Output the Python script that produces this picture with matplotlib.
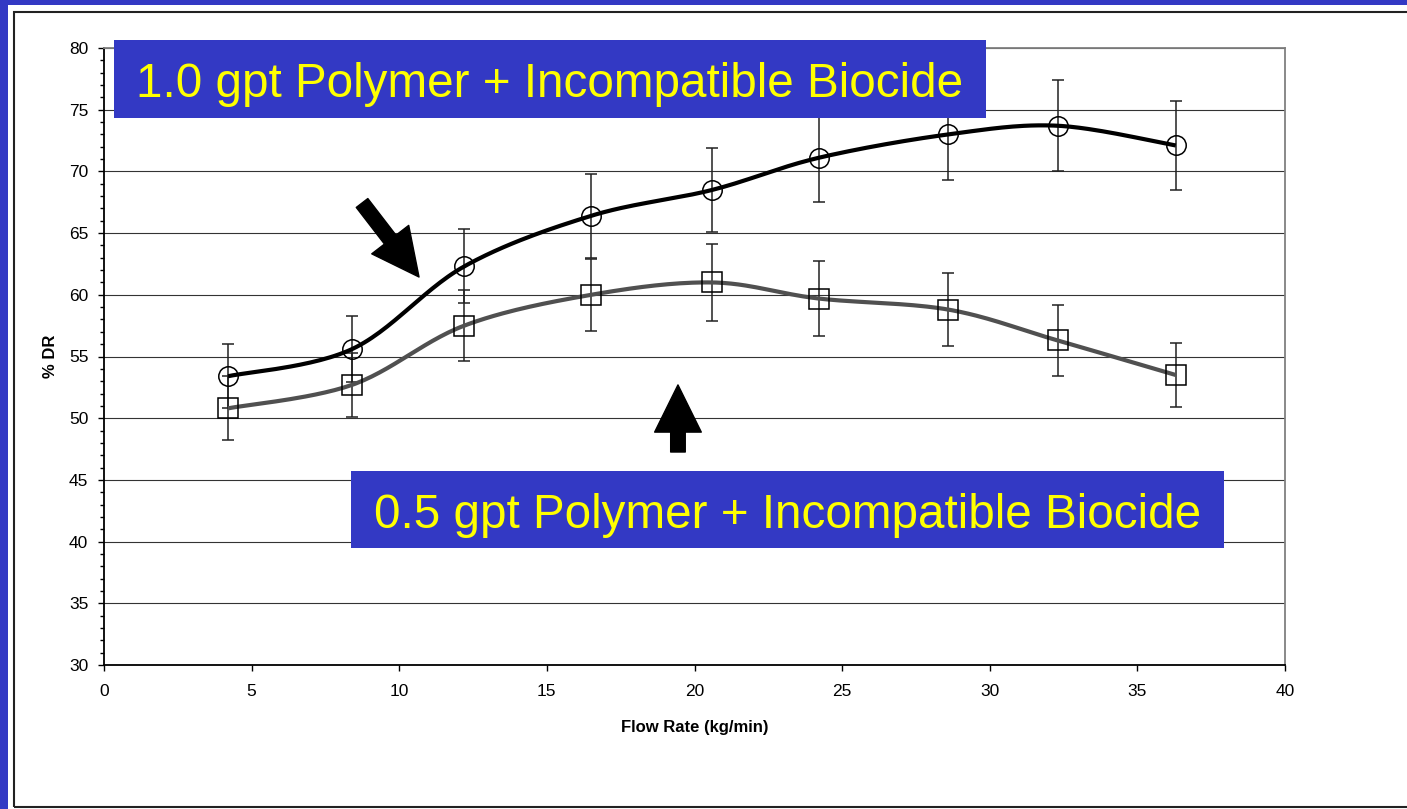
import matplotlib
matplotlib.use('Agg')
import matplotlib.pyplot as plt
from matplotlib.patches import Rectangle
from matplotlib.ticker import MultipleLocator
import numpy as np

plt.rcParams['font.family'] = ['Liberation Sans', 'DejaVu Sans']

# Data
flow_rate = [4.2, 8.4, 12.2, 16.5, 20.6, 24.2, 28.6, 32.3, 36.3]
dr_10gpt = [53.4, 55.6, 62.3, 66.4, 68.5, 71.1, 73.0, 73.7, 72.1]
err_10gpt = [2.6, 2.7, 3.0, 3.4, 3.4, 3.6, 3.7, 3.7, 3.6]
dr_05gpt = [50.8, 52.7, 57.5, 60.0, 61.0, 59.7, 58.8, 56.3, 53.5]
err_05gpt = [2.6, 2.6, 2.9, 2.9, 3.1, 3.0, 2.95, 2.85, 2.6]

label_10 = '1.0 gpt Polymer + Incompatible Biocide'
label_05 = '0.5 gpt Polymer + Incompatible Biocide'

BLUE = '#3339c4'
W, H = 1407, 809


def smooth_curve(x, y, sx, sy, n=30):
    """Excel-style smoothed line (Bezier through points), computed in screen scale."""
    p = np.column_stack([np.asarray(x) * sx, np.asarray(y) * sy])
    pts = np.vstack([p[0], p, p[-1]])
    t = np.linspace(0, 1, n)[:, None]
    out = []
    for i in range(1, len(pts) - 2):
        p0, p3 = pts[i], pts[i + 1]
        p1 = p0 + (pts[i + 1] - pts[i - 1]) / 6
        p2 = p3 - (pts[i + 2] - pts[i]) / 6
        seg = ((1 - t) ** 3) * p0 + 3 * ((1 - t) ** 2) * t * p1 + 3 * (1 - t) * t ** 2 * p2 + t ** 3 * p3
        out.append(seg)
    c = np.vstack(out)
    return c[:, 0] / sx, c[:, 1] / sy


fig = plt.figure(figsize=(W / 100, H / 100), dpi=100, facecolor=BLUE)

# white slide panel with thin black frame
fig.add_artist(Rectangle((8 / W, 0), 1, (H - 5) / H, transform=fig.transFigure,
                         facecolor='white', edgecolor='none', zorder=-2))
fig.add_artist(Rectangle((14 / W, 2 / H), 1, (807 - 12) / H, transform=fig.transFigure,
                         facecolor='none', edgecolor='#222222', linewidth=1.5, zorder=-1))

ax = fig.add_axes([104 / W, 1 - 665 / H, (1285 - 104) / W, (665 - 48) / H])
ax.set_facecolor('white')
ax.set_xlim(0, 40)
ax.set_ylim(30, 80)

sx, sy = 1181 / 40, 617 / 50
xs, ys = smooth_curve(flow_rate, dr_10gpt, sx, sy)
ax.plot(xs, ys, color='black', linewidth=3.0, solid_capstyle='butt', zorder=3)
xs, ys = smooth_curve(flow_rate, dr_05gpt, sx, sy)
ax.plot(xs, ys, color='#505050', linewidth=3.0, solid_capstyle='butt', zorder=3)

ax.errorbar(flow_rate, dr_10gpt, yerr=err_10gpt, fmt='none', ecolor='#222222',
            elinewidth=1.1, capsize=4.2, capthick=1.1, zorder=2)
ax.errorbar(flow_rate, dr_05gpt, yerr=err_05gpt, fmt='none', ecolor='#222222',
            elinewidth=1.1, capsize=4.2, capthick=1.1, zorder=2)

ax.plot(flow_rate, dr_10gpt, linestyle='none', marker='o', markersize=14,
        markerfacecolor='none', markeredgecolor='black', markeredgewidth=1.1, zorder=4)
ax.plot(flow_rate, dr_05gpt, linestyle='none', marker='s', markersize=13.8,
        markerfacecolor='none', markeredgecolor='black', markeredgewidth=1.1, zorder=4)

# grid and axes styling
ax.yaxis.set_major_locator(MultipleLocator(5))
ax.yaxis.set_minor_locator(MultipleLocator(1))
ax.xaxis.set_major_locator(MultipleLocator(5))
ax.grid(axis='y', which='major', color='#333333', linewidth=0.8)
ax.set_axisbelow(True)
for side in ['top', 'right']:
    ax.spines[side].set_color('#808080')
    ax.spines[side].set_linewidth(1.3)
for side in ['left', 'bottom']:
    ax.spines[side].set_color('black')
    ax.spines[side].set_linewidth(1.3)
ax.tick_params(axis='y', which='major', length=4.3, width=1.0, pad=7, labelsize=12.5)
ax.tick_params(axis='y', which='minor', length=3, width=1.0)
ax.tick_params(axis='x', which='major', length=4, width=1.0, pad=9.5, labelsize=12.5)

ax.set_xlabel('Flow Rate (kg/min)', fontsize=12, fontweight='bold')
ax.set_ylabel('% DR', fontsize=12, fontweight='bold')
ax.xaxis.set_label_coords(0.5004, -0.089)
ax.yaxis.set_label_coords(-0.039, 0.5)

# arrows pointing at the two curves
arrow_kw = dict(arrowstyle='simple,head_length=34,head_width=33.6,tail_width=10.5',
                mutation_scale=1, color='black', shrinkA=0, shrinkB=0)
ax.annotate('', xy=(10.67, 61.44), xytext=(8.74, 67.44), arrowprops=arrow_kw, zorder=5)
ax.annotate('', xy=(19.44, 52.7), xytext=(19.44, 47.26), arrowprops=arrow_kw, zorder=5)

# blue caption boxes
for (x0, x1, y0, y1, base, txt) in [(114, 986, 40, 118, 97, label_10),
                                    (351, 1224, 471, 548, 528, label_05)]:
    fig.add_artist(Rectangle((x0 / W, 1 - y1 / H), (x1 - x0) / W, (y1 - y0) / H,
                             transform=fig.transFigure, facecolor=BLUE,
                             edgecolor='none', zorder=5))
    fig.text((x0 + x1) / 2 / W, 1 - base / H, txt, ha='center', va='baseline',
             fontsize=34.3, color='#ffff00', zorder=6)

fig.savefig('out.png', dpi=100, facecolor=BLUE)
